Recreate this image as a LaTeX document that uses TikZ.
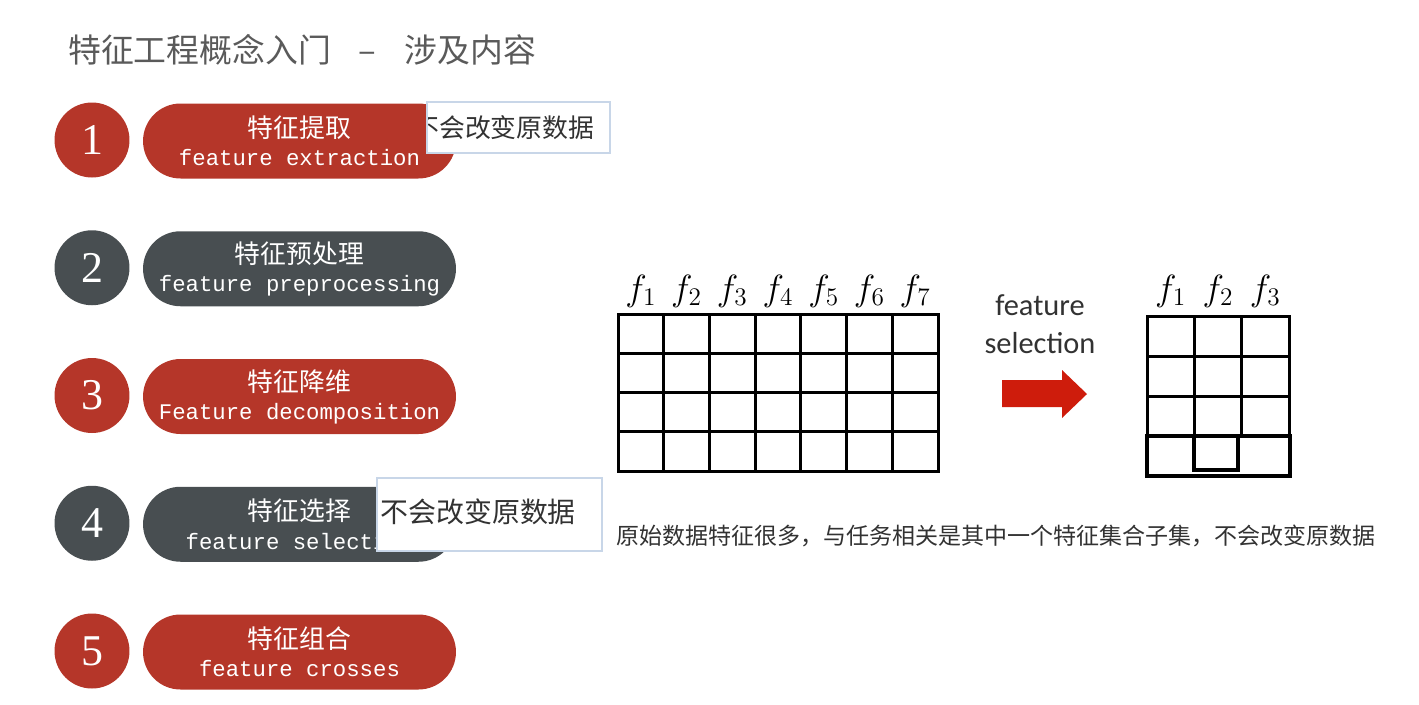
\documentclass[tikz,border=0pt]{standalone}
\usepackage{fontspec}
\setmainfont{Liberation Serif}
\setmonofont{Liberation Mono}
\newfontfamily\cjk{Noto Sans CJK SC}
\newfontfamily\calibri{Carlito}
\usetikzlibrary{positioning}

\definecolor{pillred}{RGB}{181,54,41}
\definecolor{pillgray}{RGB}{72,78,81}
\definecolor{titlegray}{RGB}{90,90,90}
\definecolor{textgray}{RGB}{50,50,50}
\definecolor{tipblue}{RGB}{200,214,232}
\definecolor{arrowred}{RGB}{206,28,12}

\tikzset{
  numdot/.style={circle, minimum size=1.5cm, inner sep=0pt, text=white,
    font=\fontsize{25}{25}\selectfont},
  pill/.style={rectangle, rounded corners=0.75cm, minimum width=6.26cm,
    minimum height=1.5cm, inner sep=0pt, text=white, align=center},
  tipbox/.style={draw=tipblue, fill=white, line width=0.8pt},
  gridline/.style={line width=1.7pt, black},
  flabel/.style={font=\fontsize{21}{21}\selectfont},
}

\begin{document}
\begin{tikzpicture}[x=0.02cm, y=-0.02cm]
  \useasboundingbox (0,0) rectangle (1419,704);

  % 1. 标题
  \node[anchor=west, text=titlegray, font=\cjk\fontsize{18.7}{20}\selectfont] (title) at (62,50)
    {特征工程概念入门\hspace{0.85em}–\hspace{0.85em}涉及内容};

  % 2. 左侧五个条目 (序号圆 + 胶囊)
  \foreach \i/\zh/\en/\col in {1/特征提取/feature extraction/pillred,
                               2/特征预处理/feature preprocessing/pillgray,
                               3/特征降维/Feature decomposition/pillred,
                               4/特征选择/feature selection/pillgray,
                               5/特征组合/feature crosses/pillred}{
    \node[numdot, fill=\col] (n\i) at (92, {140+(\i-1)*127.75}) {\i};
    \node[pill, fill=\col] (p\i) at (299.5, {141+(\i-1)*127.75})
      {{\cjk\fontsize{14.7}{17}\selectfont \zh}\\[4pt]
       {\ttfamily\fontsize{12.7}{14}\selectfont \en}};
  }

  % 3. 弹出的提示框 (盖在胶囊上)
  \draw[tipbox] (427,102) rectangle (610,153);
  \begin{scope}
    \clip (428,103) rectangle (609,152);
    \node[anchor=west, inner sep=0pt, text=textgray, font=\cjk\fontsize{14.7}{16}\selectfont]
      (tip1) at (413,128) {不会改变原数据};
  \end{scope}
  \draw[tipbox] (377,478) rectangle (602,551);
  \node[anchor=west, inner sep=0pt, text=textgray, font=\cjk\fontsize{15.9}{17}\selectfont]
    (tip2) at (380,512) {不会改变原数据};

  % 4. 原始特征表 (7 列 x 4 行)
  \draw[gridline] (618,314) rectangle (938,471);
  \foreach \c in {1,...,6}
    \draw[gridline] ({618+\c*45.71},314) -- ++(0,157);
  \foreach \r in {1,2,3}
    \draw[gridline] (618,{314+\r*39.25}) -- (938,{314+\r*39.25});
  \foreach \c in {1,...,7}
    \node[flabel] (fa\c) at ({618+(\c-0.5)*45.71}, 291) {$f_{\c}$};

  % 5. feature selection 与红色箭头
  \node[text=textgray, align=center, font=\calibri\fontsize{17.3}{21.5}\selectfont]
    (fsel) at (1040,324) {feature\\selection};
  \fill[arrowred] (1002,380) -- (1062,380) -- (1062,370) -- (1087,394)
    -- (1062,418) -- (1062,407) -- (1002,407) -- cycle;

  % 6. 选出的特征子集 (3 列 x 4 行, 最后一行加粗)
  \draw[gridline] (1147,316) rectangle (1289,436);
  \foreach \c in {1,2}
    \draw[gridline] ({1147+\c*47.3},316) -- ++(0,120);
  \foreach \r in {1,2}
    \draw[gridline] (1147,{316+\r*40}) -- (1289,{316+\r*40});
  \draw[line width=2.6pt] (1147,436) rectangle (1290,476);
  \draw[line width=2.6pt] (1194,436) rectangle (1238,470);
  \foreach \c in {1,2,3}
    \node[flabel] (fb\c) at ({1147+(\c-0.5)*47.3}, 291) {$f_{\c}$};

  % 7. 说明文字
  \node[anchor=west, inner sep=0pt, text=textgray, font=\cjk\fontsize{13.1}{15}\selectfont]
    (note) at (616,536) {原始数据特征很多，与任务相关是其中一个特征集合子集，不会改变原数据};
\end{tikzpicture}
\end{document}
